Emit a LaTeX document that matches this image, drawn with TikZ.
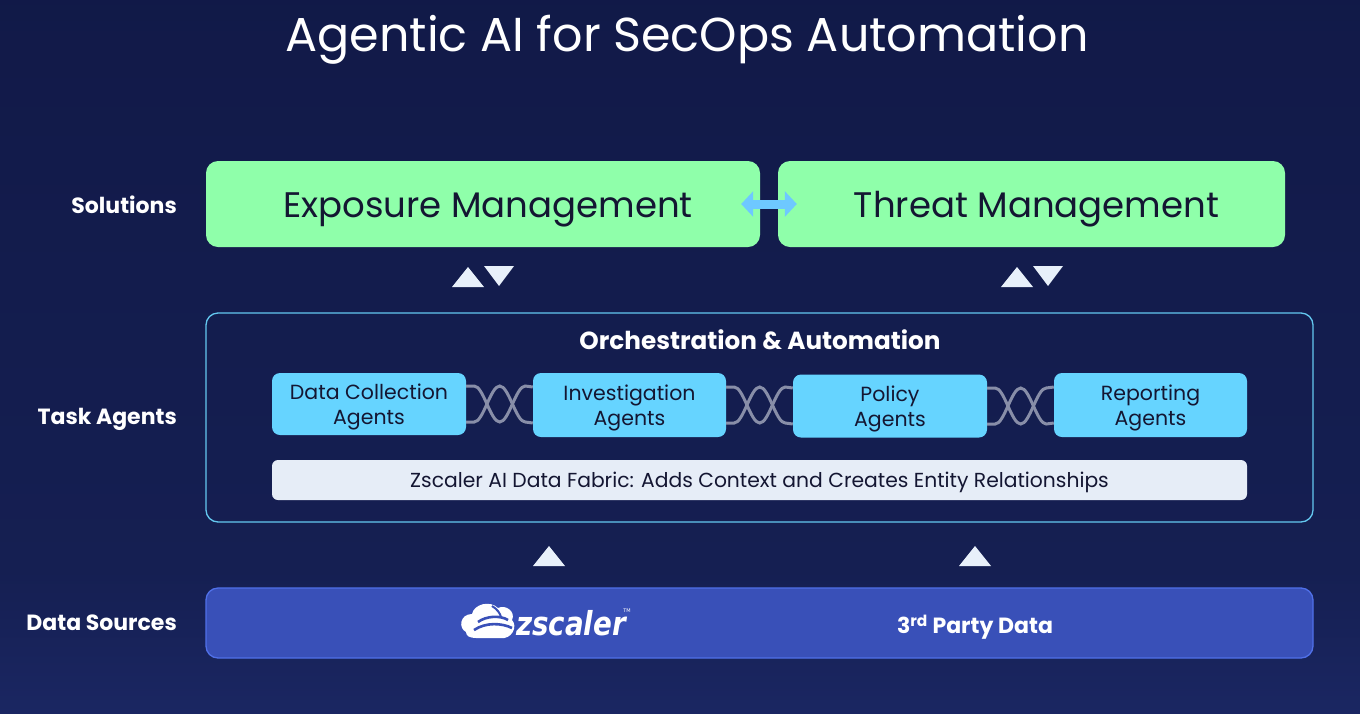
\documentclass[tikz,border=0pt]{standalone}
\usepackage{fontspec}
\setmainfont{Poppins}
\newfontfamily\logofont{DejaVu Sans}
\usetikzlibrary{arrows.meta,calc}
\definecolor{bgtop}{RGB}{15,22,66}
\definecolor{bgmid}{RGB}{21,31,82}
\definecolor{bgbot}{RGB}{40,57,138}
\definecolor{solgreen}{RGB}{143,255,170}
\definecolor{agentblue}{RGB}{102,212,255}
\definecolor{arrowblue}{RGB}{110,200,255}
\definecolor{orchline}{RGB}{100,200,240}
\definecolor{fabric}{RGB}{230,237,247}
\definecolor{datafill}{RGB}{57,80,184}
\definecolor{dataline}{RGB}{80,112,232}
\definecolor{tri}{RGB}{232,240,250}
\definecolor{strandc}{RGB}{136,142,168}
\definecolor{darktext}{RGB}{20,22,50}
\pgfdeclareverticalshading{bgshade}{100bp}{color(0bp)=(bgbot); color(35bp)=(bgmid); color(100bp)=(bgtop)}
\tikzset{
  solbox/.style={draw=none,fill=solgreen,rounded corners=12pt},
  soltext/.style={text=darktext,text height=30pt,text depth=4pt,font=\fontsize{35.5}{40}\selectfont},
  agentbox/.style={fill=agentblue,rounded corners=8pt},
  agenttext/.style={text=darktext,align=center,font=\fontsize{20.5}{25}\selectfont},
  sidelabel/.style={text=white,anchor=east,inner sep=0pt,font=\bfseries\fontsize{22}{26}\selectfont},
  strand/.style={draw=strandc,line width=3pt},
  trishape/.style={fill=tri},
  dbl/.style={draw=arrowblue,line width=9pt,{Triangle[length=12pt,width=25pt]}-{Triangle[length=12pt,width=25pt]}},
}
\newcommand\chainlink[2]{%
  \draw[strand] ($(#1.east)+(0,-18)$) -- ++(8,0) .. controls ++(9.2,0) and ++(-9.2,0) .. ++(25.5,36)
     .. controls ++(9.2,0) and ++(-9.2,0) .. ++(25.5,-36) -- ($(#2.west)+(0,-18)$);
  \draw[strand] ($(#1.east)+(0,18)$) -- ++(8,0) .. controls ++(9.2,0) and ++(-9.2,0) .. ++(25.5,-36)
     .. controls ++(9.2,0) and ++(-9.2,0) .. ++(25.5,36) -- ($(#2.west)+(0,18)$);
}
\begin{document}
\begin{tikzpicture}[x=1pt,y=-1pt]
\useasboundingbox (0,0) rectangle (1360,713);
\shade[shading=bgshade] (0,0) rectangle (1360,713);

% title
\node[text=white,font=\fontsize{47.6}{54}\selectfont] (title) at (687,40) {Agentic AI for SecOps Automation};

% side labels
\node[sidelabel] (lsol) at (177,205) {Solutions};
\node[sidelabel] (ltask) at (177,419) {Task Agents};
\node[sidelabel] (ldata) at (177,623) {Data Sources};

% solutions
\node[solbox,minimum width=554pt,minimum height=86pt] (exp) at (483,204) {};
\node[soltext] (exptext) at ($(exp.center)+(5,0)$) {Exposure Management};
\node[solbox,minimum width=507pt,minimum height=86pt] (thr) at (1031.5,204) {};
\node[soltext] (thrtext) at ($(thr.center)+(5,0)$) {Threat Management};
\draw[dbl] ([xshift=-19pt]exp.east) -- ([xshift=19pt]thr.west);

% triangles under solutions
\coordinate (t1) at (483,277);
\coordinate (t2) at (1032,277);
\foreach \c in {t1,t2}{
  \fill[trishape] ($(\c)+(-31,10)$) -- ($(\c)+(-15,-10)$) -- ($(\c)+(1,10)$) -- cycle;
  \fill[trishape] ($(\c)+(1,-11)$) -- ($(\c)+(31,-11)$) -- ($(\c)+(16,9)$) -- cycle;
}

% orchestration
\node[draw=orchline,line width=1.3pt,rounded corners=12pt,minimum width=1107pt,minimum height=209pt] (orch) at (759.5,417.5) {};
\node[text=white,font=\bfseries\fontsize{24.7}{28}\selectfont] (orchtitle) at (760,340) {Orchestration \& Automation};

\node[agentbox,minimum width=194pt,minimum height=62pt] (dc) at (369,404) {};
\node[agentbox,minimum width=193pt,minimum height=64pt] (inv) at (629.5,405) {};
\node[agentbox,minimum width=194pt,minimum height=63pt] (pol) at (890,406) {};
\node[agentbox,minimum width=193pt,minimum height=64pt] (rep) at (1150.5,405) {};
\node[agenttext] (dct) at ($(dc.center)+(0,3)$) {Data Collection\\Agents};
\node[agenttext] (invt) at ($(inv.center)+(0,3)$) {Investigation\\Agents};
\node[agenttext] (polt) at ($(pol.center)+(0,3)$) {Policy\\Agents};
\node[agenttext] (rept) at ($(rep.center)+(0,3)$) {Reporting\\Agents};
\chainlink{dc}{inv}
\chainlink{inv}{pol}
\chainlink{pol}{rep}

\node[fill=fabric,rounded corners=6pt,minimum width=975pt,minimum height=40pt,text height=15pt,text depth=1pt,text=darktext,font=\fontsize{20.3}{24}\selectfont] (fab) at (759.5,480) {Zscaler AI Data Fabric: Adds Context and Creates Entity Relationships};

% triangles up
\coordinate (u1) at (549,556);
\coordinate (u2) at (975,556);
\foreach \c in {u1,u2}{
  \fill[trishape] ($(\c)+(-16,10)$) -- ($(\c)+(0,-10)$) -- ($(\c)+(16,10)$) -- cycle;
}

% data sources
\node[fill=datafill,draw=dataline,line width=1.3pt,rounded corners=12pt,minimum width=1107pt,minimum height=70pt] (data) at (759.5,623) {};
% zscaler logo (approximation)
\begin{scope}
  \fill[white] (466,632) .. controls (458,628) and (460,614) .. (472,614)
     .. controls (474,604) and (490,600) .. (498,608)
     .. controls (506,604) and (516,612) .. (512,620)
     .. controls (518,626) and (512,640) .. (500,638)
     -- (476,638) .. controls (470,638) and (466,636) .. (466,632) -- cycle;
  \draw[datafill,line width=2.6pt] (478,622) .. controls (486,616) and (500,615) .. (508,620);
  \draw[datafill,line width=2.6pt] (474,630) .. controls (486,622) and (502,623) .. (512,628);
  \draw[datafill,line width=2pt] (492,606) .. controls (497,609) and (500,613) .. (501,617);
\end{scope}
\node[text=white,anchor=west,inner sep=0pt,xscale=0.84,font=\logofont\bfseries\itshape\fontsize{33}{36}\selectfont] (zs) at (516,623) {zscaler};
\node[text=white,anchor=south west,inner sep=0pt,font=\logofont\fontsize{5}{6}\selectfont] (tm) at ([xshift=-3pt,yshift=-3pt]zs.north east) {TM};
\node[text=white,font=\bfseries\fontsize{22}{26}\selectfont] (third) at (975,627) {3\textsuperscript{rd} Party Data};
\end{tikzpicture}
\end{document}
